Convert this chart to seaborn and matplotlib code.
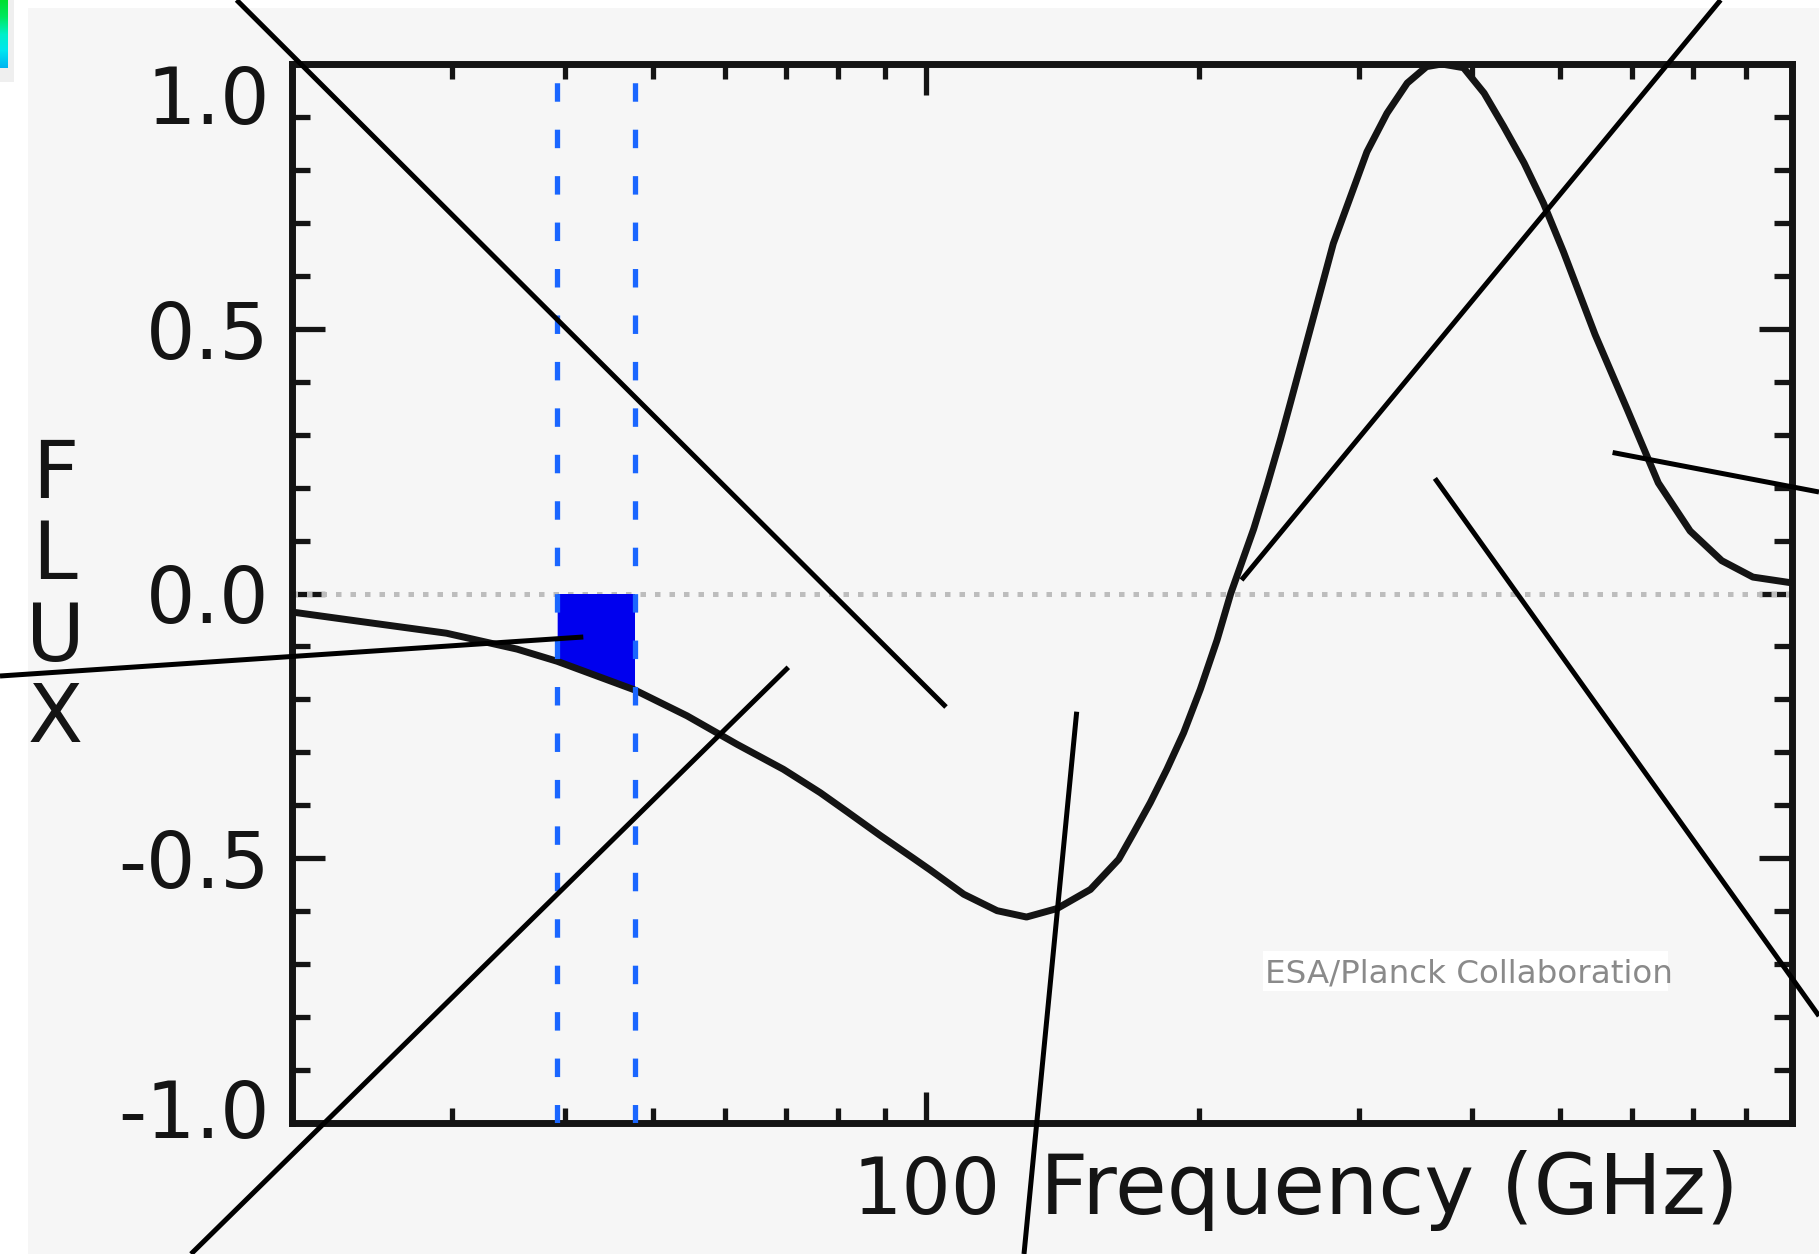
import numpy as np
import pandas as pd
import matplotlib
matplotlib.use("Agg")
import matplotlib.pyplot as plt
import seaborn as sns
import matplotlib.transforms as mtransforms
from matplotlib.lines import Line2D
from matplotlib.patches import Rectangle
from matplotlib.colors import LinearSegmentedColormap
from matplotlib.ticker import (FixedLocator, FixedFormatter, NullFormatter,
                               MultipleLocator, LogLocator)

# ---------------- data ----------------
freq_ghz = [20.2, 23.6, 29.6, 35.4, 39.2, 47.7, 54.5, 61.9, 69.6, 76.4,
            81.8, 89.0, 96.8, 101, 110, 119.7, 129, 139.4, 151.7, 163,
            169.3, 176.6, 184.2, 192.2, 200.5, 209.2, 216.6, 229.6, 237.5, 245.8,
            252, 281, 293.6, 306, 322, 339, 356, 370, 391, 412,
            433, 456, 479, 504, 546, 592, 641, 695, 753, 815,
            884, 900]
flux = [-0.036, -0.052, -0.075, -0.105, -0.128, -0.182, -0.231, -0.285, -0.332, -0.376,
        -0.412, -0.457, -0.500, -0.522, -0.568, -0.599, -0.611, -0.595, -0.559, -0.502,
        -0.452, -0.395, -0.332, -0.263, -0.181, -0.088, 0.000, 0.122, 0.204, 0.292,
        0.360, 0.661, 0.750, 0.834, 0.907, 0.964, 0.995, 1.000, 0.993, 0.945,
        0.882, 0.813, 0.737, 0.645, 0.489, 0.349, 0.209, 0.118, 0.062, 0.031,
        0.022, 0.020]
band_edges_ghz = [39.2, 47.7]
x_ticks = [100]
x_tick_labels = ["100"]
y_ticks = [-1.0, -0.5, 0.0, 0.5, 1.0]
y_tick_labels = ["-1.0", "-0.5", "0.0", "0.5", "1.0"]
x_label = "Frequency (GHz)"
y_label = "F\nL\nU\nX"
credit = "ESA/Planck Collaboration"

# ---------------- style ----------------
sns.set_theme(style="ticks")
plt.rcParams["font.family"] = ["DejaVu Sans"]
plt.rcParams["axes.unicode_minus"] = False

W, H = 1819, 1254
fig = plt.figure(figsize=(W / 100, H / 100), dpi=100, facecolor="white")

def fx(px):
    return px / W

def fy(py):
    return 1 - py / H

BG = "#f6f6f6"
INK = "#141414"
# light-grey panel
fig.add_artist(Rectangle((fx(28), 0), 1 - fx(28), fy(8), transform=fig.transFigure,
                         facecolor=BG, edgecolor="none", zorder=0))
# small colour-bar fragment in the corner
fig.add_artist(Rectangle((0, fy(82)), fx(14), 82 / H, transform=fig.transFigure,
                         facecolor="#efefef", edgecolor="none", zorder=0))
cax = fig.add_axes([0, fy(68), fx(7.5), 68 / H])
cmap = LinearSegmentedColormap.from_list(
    "corner", ["#00b4f0", "#00e6f0", "#00f0c8", "#00e860", "#00e030"])
cax.imshow(np.linspace(0, 1, 64).reshape(-1, 1)[::-1], aspect="auto", cmap=cmap)
cax.set_axis_off()

# main axes
ax = fig.add_axes([fx(292), fy(1123), 1500 / W, 1059 / H])
ax.set_facecolor(BG)
ax.set_xscale("log")
ax.set_xlim(20, 900)
ax.set_ylim(-1, 1)

df = pd.DataFrame({"freq": freq_ghz, "flux": flux})
f = np.array(freq_ghz)
v = np.array(flux)
mask = (f >= band_edges_ghz[0]) & (f <= band_edges_ghz[1])

ax.axhline(0, color="#bdbdbd", lw=3.6, ls=(0, (1.1, 1.8)), zorder=2)
ax.fill_between(f[mask], v[mask], 0, color="#0000ee", lw=0, zorder=3)
sns.lineplot(data=df, x="freq", y="flux", color=INK, lw=5.0, ax=ax, zorder=4)
ax.lines[-1].set_solid_joinstyle("round")
for e in band_edges_ghz:
    ax.axvline(e, color="#1a66ff", lw=3.8, ls=(0, (3.5, 5.3)), zorder=5)

# ticks
ax.xaxis.set_major_locator(FixedLocator(x_ticks))
ax.xaxis.set_major_formatter(FixedFormatter(x_tick_labels))
ax.xaxis.set_minor_locator(LogLocator(base=10, subs=np.arange(2, 10), numticks=20))
ax.xaxis.set_minor_formatter(NullFormatter())
ax.yaxis.set_major_locator(FixedLocator(y_ticks))
ax.yaxis.set_major_formatter(FixedFormatter(y_tick_labels))
ax.yaxis.set_minor_locator(MultipleLocator(0.1))
ax.yaxis.set_minor_formatter(NullFormatter())

ax.tick_params(which="both", direction="in", top=True, right=True,
               width=3.8, color=INK, labelcolor=INK)
ax.tick_params(axis="y", which="major", length=24, labelsize=56, pad=16)
ax.tick_params(axis="y", which="minor", length=13)
ax.tick_params(axis="x", which="major", length=22, labelsize=56, pad=22)
ax.tick_params(axis="x", which="minor", length=11)
for s in ax.spines.values():
    s.set_linewidth(5.0)
    s.set_color(INK)
ax.grid(False)

labs = ax.get_yticklabels()
labs[-1].set_verticalalignment("top")
labs[0].set_transform(labs[0].get_transform() +
                      mtransforms.ScaledTranslation(0, 15 / 100, fig.dpi_scale_trans))

ax.set_xlabel(x_label, fontsize=60.5, color=INK, ha="left", va="top")
ax.xaxis.set_label_coords((1040 - 292) / 1500, (1123 - 1150) / 1059)
ax.set_ylabel(y_label, fontsize=58, color=INK, rotation=0, linespacing=1.06,
              ha="center", va="center", multialignment="center")
ax.yaxis.set_label_coords((55 - 292) / 1500, (1123 - 598) / 1059)

# credit
fig.add_artist(Rectangle((fx(1263), fy(991)), (1668 - 1263) / W, 40 / H,
                         transform=fig.transFigure, facecolor="white",
                         edgecolor="none", zorder=6))
fig.text(fx(1265), fy(983), credit, fontsize=23.4, color="#8a8a8a",
         ha="left", va="baseline", zorder=7)

# leader lines crossing the figure
leaders = [
    [(236.6, 0), (946, 707)],
    [(1720.6, 0), (1241.5, 580)],
    [(1612.6, 452.5), (1819, 492)],
    [(1434.9, 478.4), (1819, 1016)],
    [(1076.7, 711.7), (1024, 1254)],
    [(788.3, 667.3), (191, 1254)],
    [(583.3, 637), (0, 676)],
]
for (x0, y0), (x1, y1) in leaders:
    fig.add_artist(Line2D([fx(x0), fx(x1)], [fy(y0), fy(y1)], transform=fig.transFigure,
                          color="black", lw=3.6, solid_capstyle="butt", zorder=10))

fig.savefig("out.png", dpi=100, facecolor="white")
